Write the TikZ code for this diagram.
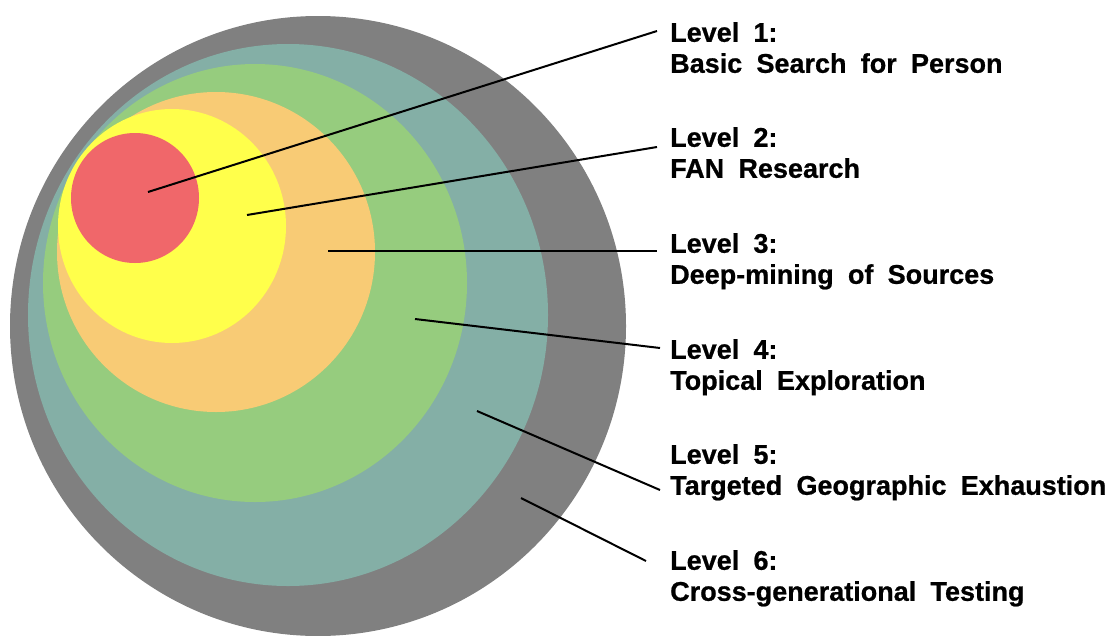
\documentclass[tikz,border=0pt]{standalone}
\usepackage{fontspec}
\newfontfamily\levelfont{Liberation Sans}[WordSpace=1.9,BoldFeatures={FakeBold=0.8}]
\definecolor{ringgray}{RGB}{128,128,128}
\definecolor{ringteal}{RGB}{132,175,166}
\definecolor{ringgreen}{RGB}{150,204,126}
\definecolor{ringorange}{RGB}{248,203,117}
\definecolor{ringyellow}{RGB}{255,255,75}
\definecolor{ringred}{RGB}{240,103,106}
\tikzset{
  level/.style={anchor=north west, inner sep=0pt, align=left,
    font=\levelfont\bfseries\fontsize{27}{31}\selectfont},
  pointer/.style={line width=2pt}
}

\begin{document}
\begin{tikzpicture}[x=1pt, y=-1pt]
\useasboundingbox (0,0) rectangle (1110,635);
\clip (0,0) rectangle (1110,635);
% rings, outside in
\fill[ringgray]   (318,326) ellipse [x radius=308pt, y radius=310pt];
\fill[ringteal]   (288,315) ellipse [x radius=260pt, y radius=271pt];
\fill[ringgreen]  (255,283) ellipse [x radius=212pt, y radius=219pt];
\fill[ringorange] (216,252) ellipse [x radius=159pt, y radius=160pt];
\fill[ringyellow] (172,226) ellipse [x radius=114pt, y radius=117pt];
\fill[ringred]    (135,198) ellipse [x radius=64pt, y radius=65pt];
% labels
\node[level] (lvl1) at (670,22)  {Level 1:\\Basic Search for Person};
\node[level] (lvl2) at (670,127) {Level 2:\\FAN Research};
\node[level] (lvl3) at (670,233) {Level 3:\\Deep-mining of Sources};
\node[level] (lvl4) at (670,339) {Level 4:\\Topical Exploration};
\node[level] (lvl5) at (670,444) {Level 5:\\Targeted Geographic Exhaustion};
\node[level] (lvl6) at (670,550) {Level 6:\\Cross-generational Testing};
% pointer ends
\coordinate (in1) at (148,192);  \coordinate (out1) at (657,31);
\coordinate (in2) at (247,215);  \coordinate (out2) at (657,147);
\coordinate (in3) at (328,251);  \coordinate (out3) at (657,251);
\coordinate (in4) at (415,319);  \coordinate (out4) at (660,348);
\coordinate (in5) at (477,411);  \coordinate (out5) at (660,490);
\coordinate (in6) at (521,498);  \coordinate (out6) at (646,561);
\foreach \i in {1,...,6}
  \draw[pointer] (in\i) -- (out\i);
\end{tikzpicture}
\end{document}
